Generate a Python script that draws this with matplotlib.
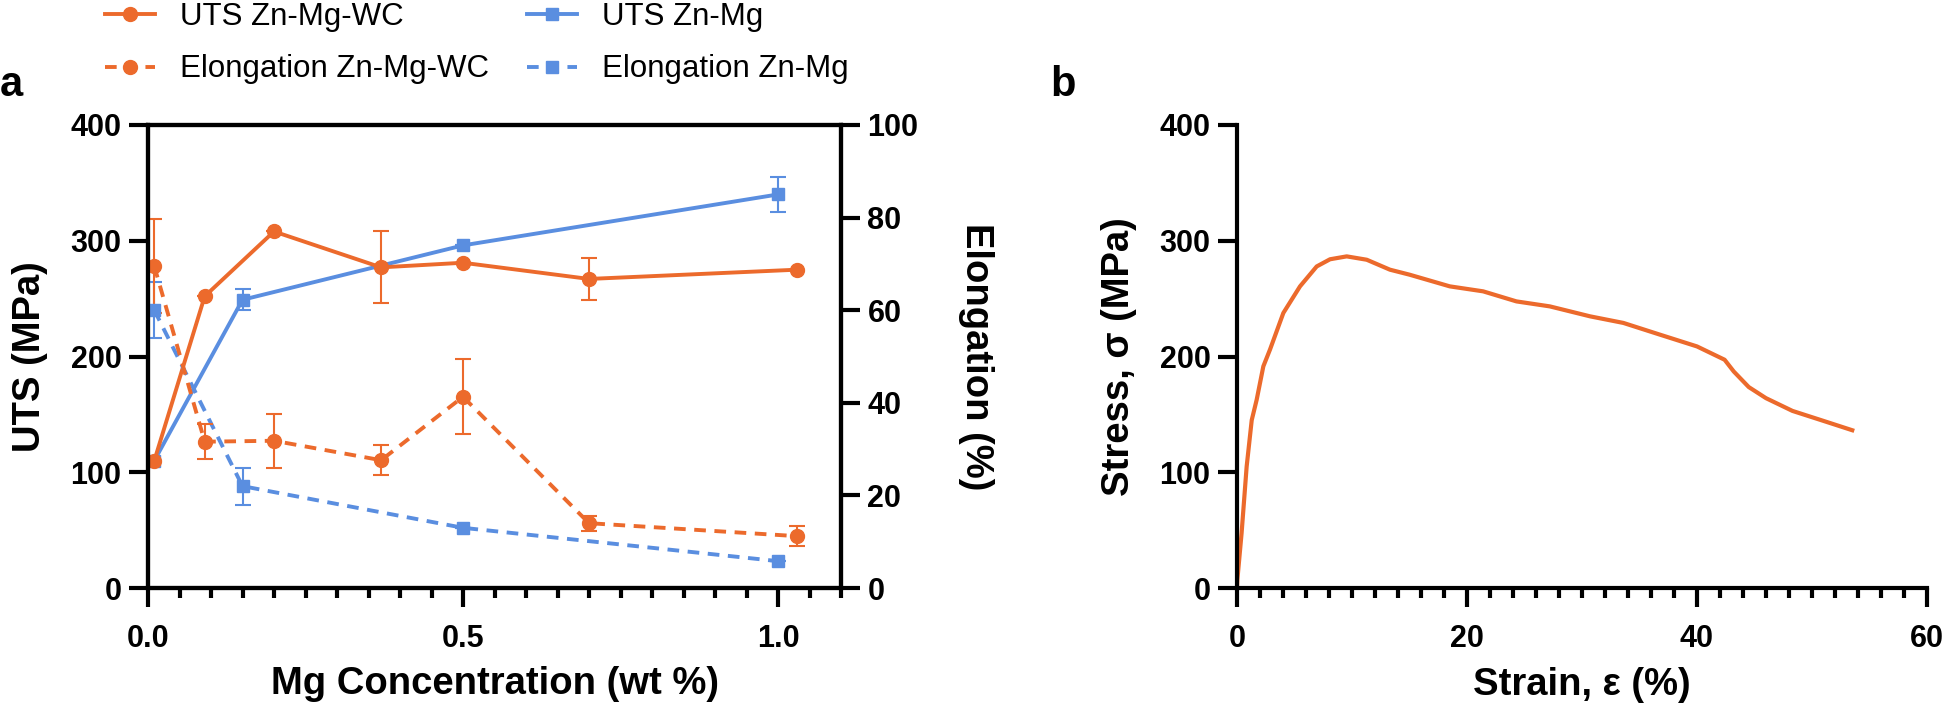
import numpy as np
import matplotlib
matplotlib.use("Agg")
import matplotlib.pyplot as plt
from matplotlib.ticker import MultipleLocator
from matplotlib.lines import Line2D

plt.rcParams["font.family"] = ["Liberation Sans", "DejaVu Sans"]

ORANGE = "#EC6A2C"
BLUE = "#5A8EE0"

# Panel a: Zn-Mg-WC
x_wc = [0.01, 0.09, 0.20, 0.37, 0.50, 0.70, 1.03]
uts_wc = [110, 252, 308, 277, 281, 267, 275]
uts_wc_err = [0, 0, 0, 31, 0, 18, 0]
el_wc = [69.5, 31.6, 31.8, 27.6, 41.3, 14.0, 11.2]
el_wc_err = [10.2, 3.8, 5.8, 3.3, 8.1, 1.6, 2.2]

# Panel a: Zn-Mg
x_zm = [0.01, 0.15, 0.50, 1.00]
uts_zm = [110, 249, 296, 340]
uts_zm_err = [0, 9, 0, 15.5]
el_zm = [60, 22, 13, 5.8]
el_zm_err = [6, 4, 0, 0]

# Panel b: stress-strain curve
strain = [0, 0.03, 0.4, 0.84, 1.28, 1.71, 2.29, 2.87, 4.03, 5.48, 6.93, 8.09,
          9.54, 11.28, 13.3, 15.0, 18.5, 21.4, 24.3, 27.2, 30.7, 33.6, 36.8,
          40.0, 42.4, 43.2, 44.5, 46.0, 48.3, 50.8, 53.5]
stress = [0, 7, 47.5, 105, 145, 162.6, 191.5, 206, 237.6, 260.6, 277.8, 284,
          286.5, 283.6, 275, 270.7, 260.6, 256.3, 247.6, 243.3, 234.7, 229,
          218.8, 208.7, 197.2, 187, 173.6, 164, 153, 145, 136.3]

W, H = 1950, 714
fig = plt.figure(figsize=(W / 100, H / 100), dpi=100)

TICK_FS = 22
LABEL_FS = 27.5
SPINE_LW = 3.0
DASH = (0, (3, 2.2))


def style_axis(ax):
    for s in ax.spines.values():
        s.set_linewidth(SPINE_LW)
    ax.tick_params(which="major", length=14, width=SPINE_LW, labelsize=TICK_FS)
    ax.tick_params(which="minor", length=7, width=SPINE_LW)
    ax.tick_params(axis="y", pad=5)
    ax.tick_params(axis="x", pad=12)
    for lab in ax.get_xticklabels() + ax.get_yticklabels():
        lab.set_fontweight("bold")


# ---- panel a ----
ax = fig.add_axes([148 / W, 1 - 588 / H, (841 - 148) / W, (588 - 125) / H])
ax2 = ax.twinx()

lw = 2.8
eb = dict(capsize=5.5, elinewidth=1.5, capthick=1.5)
ax.errorbar(x_zm, uts_zm, yerr=uts_zm_err, color=BLUE, lw=lw, marker="s",
            ms=9, **eb)
ax.errorbar(x_wc, uts_wc, yerr=uts_wc_err, color=ORANGE, lw=lw, marker="o",
            ms=10, **eb)
ax2.plot(x_zm, el_zm, color=BLUE, lw=lw, ls=DASH)
ax2.errorbar(x_zm, el_zm, yerr=el_zm_err, color=BLUE, ls="none", marker="s",
             ms=9, **eb)
ax2.plot(x_wc, el_wc, color=ORANGE, lw=lw, ls=DASH)
ax2.errorbar(x_wc, el_wc, yerr=el_wc_err, color=ORANGE, ls="none", marker="o",
             ms=10, **eb)

ax.set_xlim(0, 1.1)
ax.set_ylim(0, 400)
ax2.set_ylim(0, 100)
ax.set_xticks([0.0, 0.5, 1.0])
ax.set_xticklabels(["0.0", "0.5", "1.0"])
ax.xaxis.set_minor_locator(MultipleLocator(0.05))
ax.set_yticks([0, 100, 200, 300, 400])
ax2.set_yticks([0, 20, 40, 60, 80, 100])
style_axis(ax)
style_axis(ax2)

ax.set_xlabel("Mg Concentration (wt %)", fontsize=LABEL_FS, fontweight="bold")
ax.xaxis.set_label_coords(0.5, -(684 - 588) / 463)
ax.xaxis.label.set_va("center")
ax.set_ylabel("UTS (MPa)", fontsize=LABEL_FS, fontweight="bold")
ax.yaxis.set_label_coords((30 - 148) / 693, 0.5)
ax.yaxis.label.set_va("center")
ax2.set_ylabel("Elongation (%)", fontsize=LABEL_FS, fontweight="bold",
               rotation=270)
ax2.yaxis.set_label_coords((976 - 148) / 693, 0.5)
ax2.yaxis.label.set_va("center")

handles = [
    Line2D([], [], color=ORANGE, lw=lw, marker="o", ms=10),
    Line2D([], [], color=ORANGE, lw=lw, ls=DASH, marker="o", ms=10),
    Line2D([], [], color=BLUE, lw=lw, marker="s", ms=9),
    Line2D([], [], color=BLUE, lw=lw, ls=DASH, marker="s", ms=9),
]
labels = ["UTS Zn-Mg-WC", "Elongation Zn-Mg-WC", "UTS Zn-Mg", "Elongation Zn-Mg"]
fig.legend(handles, labels, loc="upper left", ncol=2, frameon=False,
           bbox_to_anchor=(105 / W, 1 - 2 / H), borderaxespad=0, borderpad=0,
           fontsize=22.5, handlelength=1.6, handletextpad=0.8,
           columnspacing=1.2, labelspacing=0.72)

fig.text(0 / W, 1 - 85 / H, "a", fontsize=30, fontweight="bold",
         ha="left", va="center")

# ---- panel b ----
bx = fig.add_axes([1237 / W, 1 - 588 / H, (1927 - 1237) / W, (588 - 125) / H])
bx.plot(strain, stress, color=ORANGE, lw=3.0)
bx.set_xlim(0, 60)
bx.set_ylim(0, 400)
bx.set_xticks([0, 20, 40, 60])
bx.xaxis.set_minor_locator(MultipleLocator(2))
bx.set_yticks([0, 100, 200, 300, 400])
bx.spines["top"].set_visible(False)
bx.spines["right"].set_visible(False)
style_axis(bx)
bx.set_xlabel("Strain, ε (%)", fontsize=LABEL_FS, fontweight="bold")
bx.xaxis.set_label_coords(0.5, -(685 - 588) / 463)
bx.xaxis.label.set_va("center")
bx.set_ylabel("Stress, σ (MPa)", fontsize=LABEL_FS, fontweight="bold")
bx.yaxis.set_label_coords((1119 - 1237) / 690, 0.5)
bx.yaxis.label.set_va("center")

fig.text(1050 / W, 1 - 85 / H, "b", fontsize=30, fontweight="bold",
         ha="left", va="center")

fig.savefig("out.png", dpi=100)
